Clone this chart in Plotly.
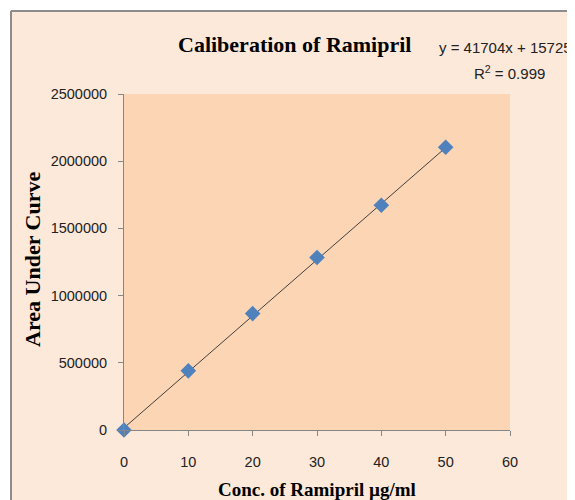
import plotly.graph_objects as go

# calibration data
conc = [0, 10, 20, 30, 40, 50]
area = [0, 440000, 866000, 1284000, 1672000, 2104000]

# trendline from fit
slope = 41704
intercept = 15725
fit_x = [0, 50]
fit_y = [slope * v + intercept for v in fit_x]

x_ticks = [0, 10, 20, 30, 40, 50, 60]
y_ticks = [0, 500000, 1000000, 1500000, 2000000, 2500000]

serif = "Liberation Serif, Times New Roman, serif"
sans = "Liberation Sans, Arial, sans-serif"

fig = go.Figure()

fig.add_trace(go.Scatter(
    x=fit_x, y=fit_y, mode="lines",
    line=dict(color="#404040", width=1),
    hoverinfo="skip", showlegend=False,
))
fig.add_trace(go.Scatter(
    x=conc, y=area, mode="markers",
    marker=dict(symbol="diamond", size=12, color="#4F81BD"),
    showlegend=False, cliponaxis=False,
))

# page has an 8px body margin, so work in figure px = screen px - 8
OFF = 8
FW, FH = 575 - OFF, 500 - OFF
L, R, T, B = 124 - OFF, 510 - OFF, 94 - OFF, 430 - OFF
W, H = R - L, B - T

def px(x):
    return (x - OFF - L) / W

def py(y):
    return (B - (y - OFF)) / H

# gray chart frame (left and top edges visible)
fig.add_shape(type="line", xref="paper", yref="paper",
              x0=px(11), x1=px(11), y0=py(11), y1=py(520),
              line=dict(color="#8c8c8c", width=2), layer="below")
fig.add_shape(type="line", xref="paper", yref="paper",
              x0=px(11), x1=px(600), y0=py(11), y1=py(11),
              line=dict(color="#8c8c8c", width=2), layer="below")
# white outside frame
fig.add_shape(type="rect", xref="paper", yref="paper",
              x0=px(-20), x1=px(10), y0=py(520), y1=py(-20),
              fillcolor="white", line_width=0, layer="below")
fig.add_shape(type="rect", xref="paper", yref="paper",
              x0=px(-20), x1=px(600), y0=py(10), y1=py(-20),
              fillcolor="white", line_width=0, layer="below")

def label(text, x, y, font, **kw):
    fig.add_annotation(text=text, xref="paper", yref="paper",
                       x=px(x), y=py(y), showarrow=False,
                       xanchor=kw.pop("xanchor", "center"), yanchor="middle",
                       font=font, **kw)

label("<b>Caliberation of Ramipril</b>", 294, 44,
      dict(family=serif, size=22, color="black"))
label("y = 41704x + 15725", 574, 47,
      dict(family=sans, size=15, color="#222"), xanchor="right")
label("R<sup>2</sup> = 0.999", 547, 72,
      dict(family=sans, size=15, color="#222"), xanchor="right")
label("<b>Conc. of Ramipril µg/ml</b>", 317, 489,
      dict(family=serif, size=19, color="black"))
label("<b>Area Under Curve</b>", 32, 260,
      dict(family=serif, size=22, color="black"), textangle=-90)

fig.update_layout(
    width=FW, height=FH,
    margin=dict(l=L, r=FW - R, t=T, b=FH - B),
    paper_bgcolor="#FDE9DA",
    plot_bgcolor="#FCD5B4",
    showlegend=False,
    font=dict(family=sans, size=14.5, color="#222"),
)
fig.update_xaxes(
    range=[0, 60], tickvals=x_ticks, ticks="outside", ticklen=5,
    tickcolor="#868686", showline=True, linecolor="#868686", linewidth=1,
    showgrid=False, zeroline=False, fixedrange=True, ticklabelstandoff=14,
    tickfont=dict(family=sans, size=14.5, color="#222"),
)
fig.update_yaxes(
    range=[0, 2500000], tickvals=y_ticks, ticktext=[str(v) for v in y_ticks],
    ticks="outside", ticklen=5, ticklabelstandoff=8,
    tickcolor="#868686", showline=True, linecolor="#868686", linewidth=1,
    showgrid=False, zeroline=False, fixedrange=True,
    tickfont=dict(family=sans, size=14.5, color="#222"),
)

fig.write_html("out.html")
